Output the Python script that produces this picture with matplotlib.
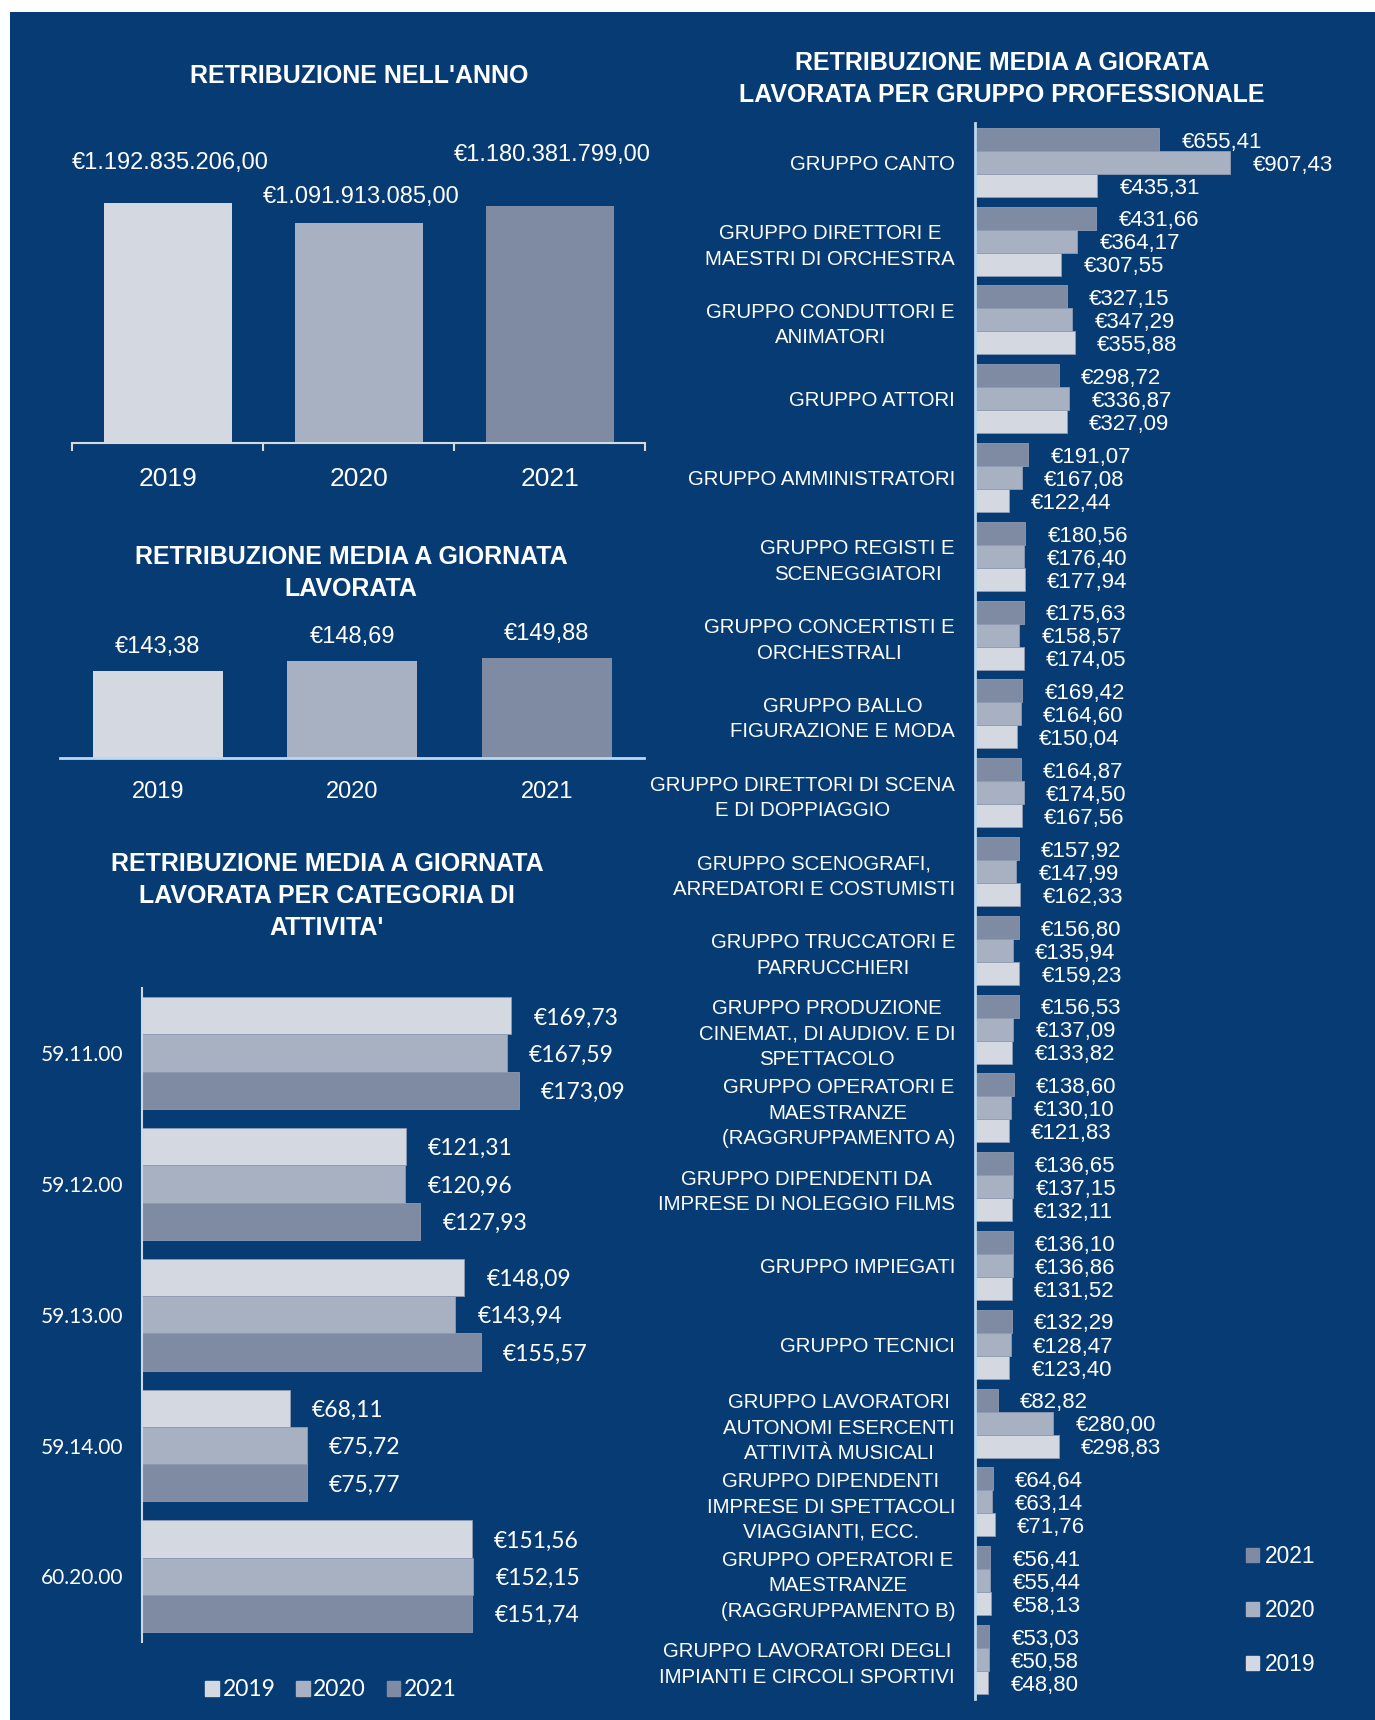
import matplotlib
matplotlib.use('Agg')
import matplotlib.pyplot as plt
from matplotlib.patches import Rectangle, Patch
import numpy as np

W, H = 1375, 1720
BG = '#063C73'
C19, C20, C21 = '#D3D8E1', '#A8B1C2', '#7F8BA3'
NARROW = ['Liberation Sans Narrow', 'Liberation Sans', 'DejaVu Sans']
SANS = ['Liberation Sans', 'DejaVu Sans']
GOTHIC = ['Lato', 'DejaVu Sans']

# --- data ---
years = ['2019', '2020', '2021']
annual_total = [1192835206.00, 1091913085.00, 1180381799.00]
daily_avg = [143.38, 148.69, 149.88]

activity_codes = ['59.11.00', '59.12.00', '59.13.00', '59.14.00', '60.20.00']
activity_2019 = [169.73, 121.31, 148.09, 68.11, 151.56]
activity_2020 = [167.59, 120.96, 143.94, 75.72, 152.15]
activity_2021 = [173.09, 127.93, 155.57, 75.77, 151.74]

groups = [
    'GRUPPO CANTO',
    'GRUPPO DIRETTORI E\nMAESTRI DI ORCHESTRA',
    'GRUPPO CONDUTTORI E\nANIMATORI',
    'GRUPPO ATTORI',
    'GRUPPO AMMINISTRATORI',
    'GRUPPO REGISTI E\nSCENEGGIATORI',
    'GRUPPO CONCERTISTI E\nORCHESTRALI',
    'GRUPPO BALLO\nFIGURAZIONE E MODA',
    'GRUPPO DIRETTORI DI SCENA\nE DI DOPPIAGGIO',
    'GRUPPO SCENOGRAFI,\nARREDATORI E COSTUMISTI',
    'GRUPPO TRUCCATORI E\nPARRUCCHIERI',
    'GRUPPO PRODUZIONE\nCINEMAT., DI AUDIOV. E DI\nSPETTACOLO',
    'GRUPPO OPERATORI E\nMAESTRANZE\n(RAGGRUPPAMENTO A)',
    'GRUPPO DIPENDENTI DA\nIMPRESE DI NOLEGGIO FILMS',
    'GRUPPO IMPIEGATI',
    'GRUPPO TECNICI',
    'GRUPPO LAVORATORI\nAUTONOMI ESERCENTI\nATTIVITÀ MUSICALI',
    'GRUPPO DIPENDENTI\nIMPRESE DI SPETTACOLI\nVIAGGIANTI, ECC.',
    'GRUPPO OPERATORI E\nMAESTRANZE\n(RAGGRUPPAMENTO B)',
    'GRUPPO LAVORATORI DEGLI\nIMPIANTI E CIRCOLI SPORTIVI',
]
group_2021 = [655.41, 431.66, 327.15, 298.72, 191.07, 180.56, 175.63, 169.42, 164.87, 157.92,
              156.80, 156.53, 138.60, 136.65, 136.10, 132.29, 82.82, 64.64, 56.41, 53.03]
group_2020 = [907.43, 364.17, 347.29, 336.87, 167.08, 176.40, 158.57, 164.60, 174.50, 147.99,
              135.94, 137.09, 130.10, 137.15, 136.86, 128.47, 280.00, 63.14, 55.44, 50.58]
group_2019 = [435.31, 307.55, 355.88, 327.09, 122.44, 177.94, 174.05, 150.04, 167.56, 162.33,
              159.23, 133.82, 121.83, 132.11, 131.52, 123.40, 298.83, 71.76, 58.13, 48.80]


def eur(v):
    s = f'{v:,.2f}'.replace(',', 'X').replace('.', ',').replace('X', '.')
    return '€' + s


def px_axes(fig, x0, y0, x1, y1):
    ax = fig.add_axes([x0 / W, 1 - y1 / H, (x1 - x0) / W, (y1 - y0) / H])
    ax.set_facecolor('none')
    for s in ax.spines.values():
        s.set_visible(False)
    return ax


def title(fig, x, y, txt):
    fig.text(x / W, 1 - y / H, txt, ha='center', va='center', color='white',
             fontsize=18, fontweight='bold', family=NARROW, linespacing=1.4)


fig = plt.figure(figsize=(W / 100, H / 100), dpi=100, facecolor='white')
fig.add_artist(Rectangle((10 / W, 0), 1 - 10 / W, 1 - 12 / H, transform=fig.transFigure,
                         facecolor=BG, edgecolor='none', zorder=-10))

# --- panel 1: total pay per year ---
title(fig, 359, 76, "RETRIBUZIONE NELL'ANNO")
ax1 = px_axes(fig, 72.4, 150, 645.3, 443.3)
x = np.arange(3)
ax1.bar(x, annual_total, width=0.667, color=[C19, C20, C21])
ax1.set_xlim(-0.5, 2.5)
ax1.set_ylim(0, 1.4559e9)
ax1.spines['bottom'].set_visible(True)
ax1.spines['bottom'].set_color('#D9D9D9')
ax1.spines['bottom'].set_linewidth(1.5)
ax1.set_yticks([])
ax1.set_xticks([-0.5, 0.5, 1.5, 2.5])
ax1.set_xticklabels([])
ax1.tick_params(axis='x', which='major', length=6, width=1.5, color='#D9D9D9')
ax1.set_xticks(x, minor=True)
ax1.set_xticklabels(years, minor=True, fontsize=19, color='white', family=SANS)
ax1.tick_params(axis='x', which='minor', length=0, pad=17)
for xi, v, off in zip(x, annual_total, [28.5, 19, 36.5]):
    ax1.annotate(eur(v), (xi, v), xytext=(2, off), textcoords='offset points',
                 ha='center', va='center', fontsize=17, color='white', family=SANS)

# --- panel 2: average per working day ---
title(fig, 351, 573, 'RETRIBUZIONE MEDIA A GIORNATA\nLAVORATA')
ax2 = px_axes(fig, 60.4, 600.1, 644.2, 758.3)
ax2.bar(x, daily_avg, width=0.666, color=[C19, C20, C21])
ax2.set_xlim(-0.5, 2.5)
ax2.set_ylim(100, 179)
ax2.spines['bottom'].set_visible(True)
ax2.spines['bottom'].set_color('#BDD7EE')
ax2.spines['bottom'].set_linewidth(2)
ax2.set_yticks([])
ax2.set_xticks(x, years, fontsize=17, color='white', family=SANS)
ax2.tick_params(axis='x', length=0, pad=16.5)
for xi, v in zip(x, daily_avg):
    ax2.annotate(eur(v), (xi, v), xytext=(0, 17.3), textcoords='offset points',
                 ha='center', va='center', fontsize=17, color='white', family=SANS)

# --- panel 3: by activity category ---
title(fig, 327, 896, "RETRIBUZIONE MEDIA A GIORNATA\nLAVORATA PER CATEGORIA DI\nATTIVITA'")
ax3 = px_axes(fig, 141.6, 987.7, 141.6 + 2.179 * 250, 1641.7)
yc = np.arange(len(activity_codes))
h3 = 0.285
for off, vals, col in [(-h3, activity_2019, C19), (0, activity_2020, C20), (h3, activity_2021, C21)]:
    bars = ax3.barh(yc + off, vals, height=h3, color=col, edgecolor='#8F9BB2', linewidth=0.6)
    for b, v in zip(bars, vals):
        ax3.annotate(eur(v), (v, b.get_y() + b.get_height() / 2), xytext=(16, -1.5),
                     textcoords='offset points', ha='left', va='center',
                     fontsize=16.5, color='white', family=GOTHIC)
ax3.set_ylim(len(activity_codes) - 0.5, -0.5)
ax3.set_xlim(0, 250)
ax3.spines['left'].set_visible(True)
ax3.spines['left'].set_color('#D0D7E3')
ax3.spines['left'].set_linewidth(1.5)
ax3.set_xticks([])
ax3.set_yticks(yc, activity_codes, fontsize=15, color='white', family=GOTHIC)
ax3.tick_params(axis='y', length=0, pad=13)
ax3.legend([Patch(color=C19), Patch(color=C20), Patch(color=C21)], years,
           loc='center', bbox_to_anchor=(331 / W, 1 - 1690 / H), bbox_transform=fig.transFigure,
           ncol=3, frameon=False, handlelength=0.6, handleheight=0.6, handletextpad=0.15,
           columnspacing=0.9, prop={'family': GOTHIC, 'size': 16.5}, labelcolor='white')

# --- panel 4: by professional group ---
title(fig, 1002, 79, 'RETRIBUZIONE MEDIA A GIORATA\nLAVORATA PER GRUPPO PROFESSIONALE')
ax4 = px_axes(fig, 974.5, 122.9, 974.5 + 0.2818 * 1200, 1698.8)
yg = np.arange(len(groups))
h4 = 0.292
for off, vals, col in [(-h4, group_2021, C21), (0, group_2020, C20), (h4, group_2019, C19)]:
    bars = ax4.barh(yg + off, vals, height=h4, color=col, edgecolor='#8F9BB2', linewidth=0.6)
    for b, v in zip(bars, vals):
        ax4.annotate(eur(v), (v, b.get_y() + b.get_height() / 2), xytext=(16, -2),
                     textcoords='offset points', ha='left', va='center',
                     fontsize=16, color='white', family=SANS)
ax4.set_ylim(len(groups) - 0.5, -0.5)
ax4.set_xlim(0, 1200)
ax4.spines['left'].set_visible(True)
ax4.spines['left'].set_color('#BDD7EE')
ax4.spines['left'].set_linewidth(2)
ax4.set_xticks([])
ax4.set_yticks(yg, groups, fontsize=14.7, color='white', family=NARROW)
for lbl in ax4.get_yticklabels():
    lbl.set_multialignment('center')
    lbl.set_linespacing(1.43)
ax4.tick_params(axis='y', length=0, pad=14)
ax4.legend([Patch(color=C21), Patch(color=C20), Patch(color=C19)], ['2021', '2020', '2019'],
           loc='upper left', bbox_to_anchor=(1246 / W, 1 - 1545 / H), bbox_transform=fig.transFigure,
           frameon=False, borderpad=0, borderaxespad=0, handlelength=0.55, handleheight=0.55,
           handletextpad=0.3, labelspacing=1.37, prop={'family': SANS, 'size': 16.4},
           labelcolor='white')

fig.savefig('out.png', dpi=100, facecolor=fig.get_facecolor())
